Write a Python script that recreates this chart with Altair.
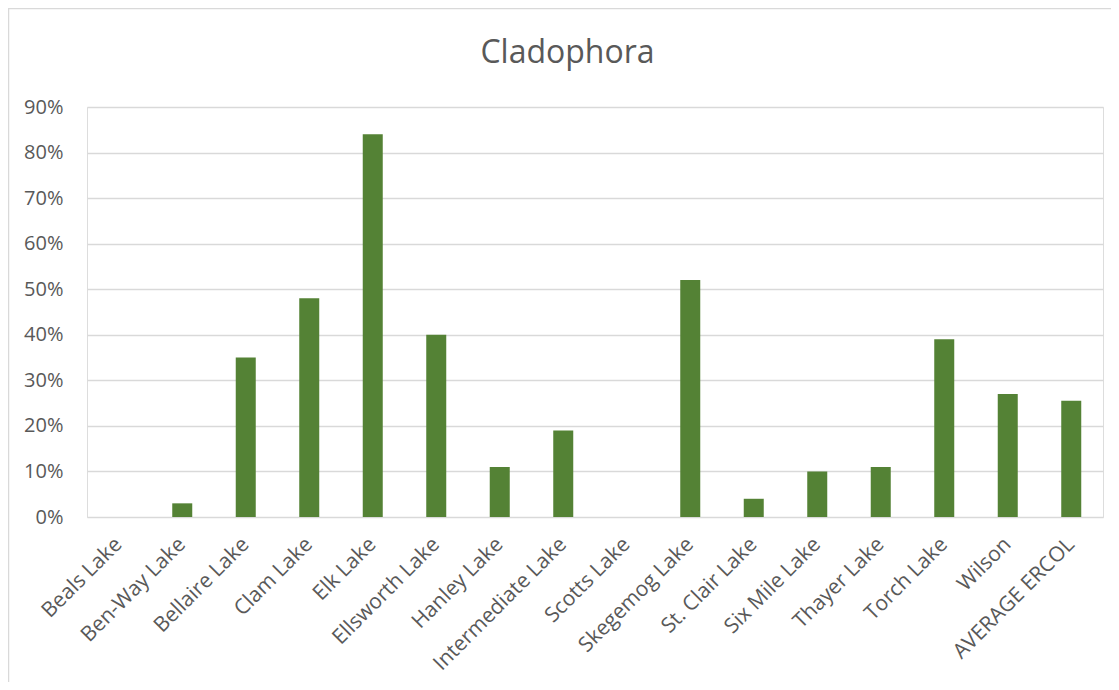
import altair as alt
import pandas as pd

title_text = "Cladophora"
lakes = ["Beals Lake", "Ben-Way Lake", "Bellaire Lake", "Clam Lake", "Elk Lake",
         "Ellsworth Lake", "Hanley Lake", "Intermediate Lake", "Scotts Lake",
         "Skegemog Lake", "St. Clair Lake", "Six Mile Lake", "Thayer Lake",
         "Torch Lake", "Wilson", "AVERAGE ERCOL"]
values = [0.00, 0.03, 0.35, 0.48, 0.84, 0.40, 0.11, 0.19, 0.00, 0.52,
          0.04, 0.10, 0.11, 0.39, 0.27, 0.255]
y_ticks = [0, 0.1, 0.2, 0.3, 0.4, 0.5, 0.6, 0.7, 0.8, 0.9]

df = pd.DataFrame({"lake": lakes, "value": values})

font = "Open Sans"
grey = "#595959"

bars = alt.Chart(df).mark_bar(color="#548235").encode(
    x=alt.X("lake:N", sort=lakes,
            scale=alt.Scale(paddingInner=0.685, paddingOuter=0.3425),
            axis=alt.Axis(title=None, labelAngle=-45, labelAlign="right",
                          labelBaseline="middle", labelFontSize=21,
                          labelColor=grey, labelFont=font, ticks=False,
                          domain=False, labelPadding=24, labelOverlap=False)),
    y=alt.Y("value:Q", scale=alt.Scale(domain=[0, 0.9], nice=False),
            axis=alt.Axis(title=None, format=".0%", values=y_ticks,
                          labelFontSize=20, labelColor=grey, labelFont=font,
                          ticks=False, domain=False, labelPadding=24,
                          grid=True, gridColor="#d9d9d9", gridWidth=1.3)),
)

one = pd.DataFrame({"f": [0]})

frame = alt.Chart(one).mark_rect(
    fillOpacity=0, stroke="#d9d9d9", strokeWidth=1.5
).encode(
    x=alt.value(-78.5), x2=alt.value(1100),
    y=alt.value(-98.5), y2=alt.value(700),
)

title = alt.Chart(one).mark_text(
    text=title_text, font=font, fontSize=32, color=grey,
    align="center", baseline="alphabetic"
).encode(x=alt.value(480.5), y=alt.value(-44))

chart = alt.layer(bars, frame, title).properties(
    width=1016, height=410,
    autosize=alt.AutoSizeParams(type="none"),
    padding={"left": 79, "top": 99, "right": 8, "bottom": 165},
).configure_view(stroke=None).configure(background="white")

chart.save("out.html", embed_options={"renderer": "svg", "actions": False})
